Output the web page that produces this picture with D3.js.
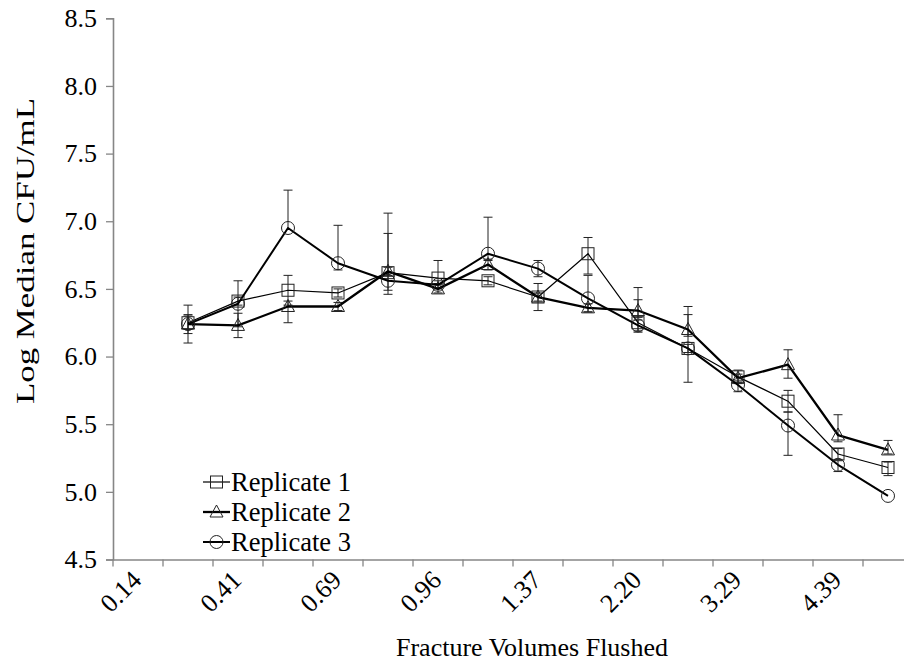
<!DOCTYPE html>
<html>
<head>
<meta charset="utf-8">
<script src="https://cdn.jsdelivr.net/npm/d3@7"></script>
<style>
  html, body { margin: 0; padding: 0; background: #fff; }
  svg { display: block; }
  text { font-family: "Liberation Serif", "Times New Roman", serif; fill: #000; }
</style>
</head>
<body>
<svg id="chart" width="904" height="664"></svg>
<script>
// Category slots along the x axis (labels shown on every other slot)
const xLabels = ["0.14", "", "0.41", "", "0.69", "", "0.96", "", "1.37", "", "2.20", "", "3.29", "", "4.39", ""];
const yTicks = [4.5, 5.0, 5.5, 6.0, 6.5, 7.0, 7.5, 8.0, 8.5];

// Log median CFU/mL for each replicate, slots 1..15
const rep1 = [6.25, 6.41, 6.49, 6.47, 6.62, 6.58, 6.56, 6.44, 6.76, 6.25, 6.06, 5.85, 5.67, 5.28, 5.18];
const rep2 = [6.24, 6.23, 6.37, 6.37, 6.63, 6.50, 6.68, 6.44, 6.36, 6.34, 6.20, 5.84, 5.94, 5.42, 5.31];
const rep3 = [6.24, 6.39, 6.95, 6.69, 6.56, 6.53, 6.76, 6.65, 6.43, 6.23, 6.06, 5.79, 5.49, 5.20, 4.97];

// Error bar extents (above / below the median)
const rep1Up   = [0.05, 0.03, 0.11, 0.03, 0.29, 0.13, 0.03, 0.10, 0.12, 0.17, 0.03, 0.05, 0.08, 0.04, 0.04];
const rep1Down = [0.05, 0.03, 0.11, 0.03, 0.13, 0.04, 0.03, 0.10, 0.15, 0.07, 0.03, 0.05, 0.08, 0.04, 0.06];
const rep2Up   = [0.07, 0.09, 0.04, 0.03, 0.03, 0.03, 0.04, 0.03, 0.03, 0.17, 0.11, 0.03, 0.11, 0.15, 0.07];
const rep2Down = [0.07, 0.09, 0.12, 0.03, 0.03, 0.03, 0.04, 0.03, 0.03, 0.05, 0.05, 0.03, 0.10, 0.05, 0.03];
const rep3Up   = [0.14, 0.17, 0.28, 0.28, 0.50, 0.03, 0.27, 0.06, 0.17, 0.04, 0.31, 0.03, 0.10, 0.03, 0.00];
const rep3Down = [0.14, 0.17, 0.00, 0.05, 0.10, 0.03, 0.05, 0.06, 0.10, 0.04, 0.25, 0.05, 0.22, 0.05, 0.00];

const seriesNames = ["Replicate 1", "Replicate 2", "Replicate 3"];
const firstSlot = 1;

const series = [
  { name: seriesNames[0], values: rep1, up: rep1Up, down: rep1Down, marker: "square",   width: 1.2 },
  { name: seriesNames[1], values: rep2, up: rep2Up, down: rep2Down, marker: "triangle", width: 2.3 },
  { name: seriesNames[2], values: rep3, up: rep3Up, down: rep3Down, marker: "circle",   width: 2.0 }
];

const serif = "'Liberation Serif', 'Times New Roman', serif";
const svg = d3.select("#chart");
const plotLeft = 113, plotRight = 913, plotTop = 18.3, plotBottom = 559.5;

const x = d3.scaleBand().domain(d3.range(xLabels.length)).range([plotLeft, plotRight]);
const y = d3.scaleLinear().domain([4.5, 8.5]).range([plotBottom, plotTop]);
const cx = i => x(i + firstSlot) + x.bandwidth() / 2;

const axisColor = "#868686";

// Y axis
const yAxis = svg.append("g")
  .attr("transform", `translate(${plotLeft},0)`)
  .call(d3.axisLeft(y).tickValues(yTicks).tickFormat(d3.format(".1f")).tickSize(7).tickPadding(9));
yAxis.attr("font-family", null);
yAxis.select(".domain").attr("stroke", axisColor).attr("stroke-width", 1.6);
yAxis.selectAll(".tick line").attr("stroke", axisColor).attr("stroke-width", 1.3);
yAxis.selectAll(".tick text")
  .style("font-family", serif)
  .style("font-size", "26px").attr("fill", "#000");

// X axis: ticks between categories, labels under category centres
const xAxis = svg.append("g")
  .attr("transform", `translate(0,${plotBottom})`)
  .call(d3.axisBottom(x).tickSize(0).tickFormat(i => xLabels[i]));
xAxis.attr("font-family", null);
xAxis.select(".domain").attr("stroke", axisColor).attr("stroke-width", 1.6);
xAxis.selectAll(".tick text")
  .style("font-family", serif)
  .style("font-size", "26px").attr("fill", "#000")
  .attr("text-anchor", "end")
  .attr("dy", null).attr("y", 0)
  .attr("transform", "translate(5,22) rotate(-45)");
xAxis.selectAll(".boundary")
  .data(d3.range(xLabels.length + 1))
  .join("line")
  .attr("class", "boundary")
  .attr("x1", i => i < xLabels.length ? x(i) : plotRight)
  .attr("x2", i => i < xLabels.length ? x(i) : plotRight)
  .attr("y1", 0).attr("y2", 7)
  .attr("stroke", axisColor).attr("stroke-width", 1.3);

// Axis titles
svg.append("text")
  .attr("transform", `translate(34,251) rotate(-90)`)
  .attr("text-anchor", "middle")
  .attr("textLength", 306)
  .attr("lengthAdjust", "spacingAndGlyphs")
  .style("font-family", serif)
  .style("font-size", "25px")
  .text("Log Median CFU/mL");

svg.append("text")
  .attr("x", 532).attr("y", 656)
  .attr("text-anchor", "middle")
  .style("font-family", serif)
  .style("font-size", "26px")
  .text("Fracture Volumes Flushed");

// Marker shapes
function drawMarker(g, type, px, py) {
  const stroke = "#222";
  if (type === "square") {
    g.append("rect").attr("x", px - 6).attr("y", py - 6).attr("width", 12).attr("height", 12)
      .attr("fill", "none").attr("stroke", stroke).attr("stroke-width", 1);
  } else if (type === "triangle") {
    g.append("path").attr("d", `M${px},${py - 7}L${px + 6.5},${py + 5}L${px - 6.5},${py + 5}Z`)
      .attr("fill", "none").attr("stroke", stroke).attr("stroke-width", 1);
  } else {
    g.append("circle").attr("cx", px).attr("cy", py).attr("r", 6.5)
      .attr("fill", "none").attr("stroke", stroke).attr("stroke-width", 1);
  }
}

const plot = svg.append("g");

// Error bars
series.forEach(s => {
  const g = plot.append("g");
  s.values.forEach((v, i) => {
    const px = cx(i);
    const hi = v + s.up[i], lo = v - s.down[i];
    if (hi === lo) return;
    g.append("line").attr("x1", px).attr("x2", px).attr("y1", y(hi)).attr("y2", y(lo))
      .attr("stroke", "#222").attr("stroke-width", 1);
    [hi, lo].forEach(e => {
      if (e === v) return;
      g.append("line").attr("x1", px - 4.5).attr("x2", px + 4.5).attr("y1", y(e)).attr("y2", y(e))
        .attr("stroke", "#222").attr("stroke-width", 1);
    });
  });
});

// Series lines and markers
const line = d3.line().x((d, i) => cx(i)).y(d => y(d));
series.forEach(s => {
  plot.append("path").datum(s.values)
    .attr("d", line).attr("fill", "none")
    .attr("stroke", "#000").attr("stroke-width", s.width).attr("stroke-linejoin", "round");
  const g = plot.append("g");
  s.values.forEach((v, i) => drawMarker(g, s.marker, cx(i), y(v)));
});

// Legend
const legend = svg.append("g");
series.forEach((s, k) => {
  const ly = 482 + k * 30;
  legend.append("line").attr("x1", 203).attr("x2", 230).attr("y1", ly).attr("y2", ly)
    .attr("stroke", "#000").attr("stroke-width", s.width);
  drawMarker(legend, s.marker, 216.5, ly);
  legend.append("text").attr("x", 231).attr("y", ly + 9)
    .style("font-family", serif)
    .style("font-size", "26.5px").text(s.name);
});
</script>
</body>
</html>
